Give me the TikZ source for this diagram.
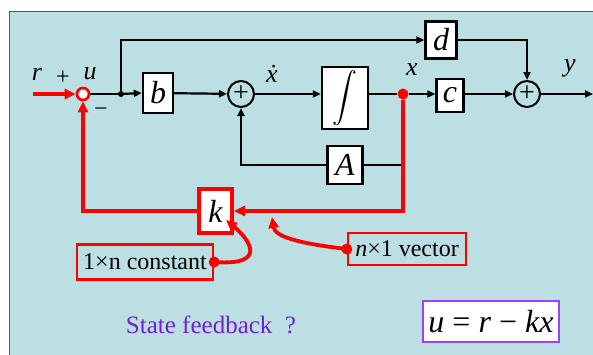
\documentclass[tikz,border=0pt]{standalone}
\usepackage{amsmath}
\usepackage{fontspec}
\setmainfont{Liberation Serif}
\usetikzlibrary{arrows.meta,positioning,calc}
\definecolor{bgc}{RGB}{187,223,227}
\definecolor{fb}{RGB}{255,0,0}
\definecolor{vio}{RGB}{112,32,208}
\definecolor{vbox}{RGB}{160,64,255}
\tikzset{
  blk/.style={draw=black,line width=2.4pt,fill=white,inner sep=0pt,
    font=\fontsize{32}{32}\selectfont\itshape},
  sumc/.style={circle,draw=black,line width=2pt,fill=bgc,minimum size=26pt,inner sep=0pt,
    font=\fontsize{28}{28}\selectfont},
  sig/.style={line width=2.2pt,-{Triangle[length=8pt,width=7pt]}},
  wire/.style={line width=2.2pt},
  fbk/.style={line width=3.8pt,draw=fb},
  fbarr/.style={fbk,-{Triangle[length=11pt,width=10pt]}},
  lbl/.style={font=\fontsize{26}{26}\selectfont\itshape,inner sep=0pt},
  note/.style={draw=fb,line width=2.4pt,inner sep=2pt,font=\fontsize{24}{24}\selectfont},
  dot/.style={circle,fill,inner sep=0pt,minimum size=#1},
}

\begin{document}
\begin{tikzpicture}[x=1pt,y=-1pt]
  \useasboundingbox (0,0) rectangle (593,354);
  % background panel
  \filldraw[fill=bgc,draw=gray!70!black,line width=0.8pt] (9,11) rectangle (600,362);

  % plant
  \node[circle,draw=fb,line width=2.7pt,fill=white,minimum size=12pt,inner sep=0pt] (sr) at (83,94) {};
  \node[dot=6pt] (j) at (121,94) {};
  \node[blk,minimum width=30pt,minimum height=40pt] (bb) at (158,93) {b};
  \node[sumc] (s1) at (241,94) {+};
  \node[blk,minimum width=46pt,minimum height=62pt] (ig) at (345,98) {\fontsize{29}{29}\selectfont$\displaystyle\int$};
  \node[dot=11pt,fill=fb] (xp) at (403,94) {};
  \node[blk,minimum width=27pt,minimum height=33pt] (cc) at (450,95.5) {c};
  \node[sumc] (s2) at (527,94) {+};
  \node[blk,minimum width=31pt,minimum height=37pt] (dd) at (441,40) {d};
  \node[blk,minimum width=35pt,minimum height=38pt] (aa) at (345,165) {A};
  \node[blk,draw=fb,line width=3.8pt,minimum width=33pt,minimum height=44pt] (kk) at (215.5,211) {k};
  \coordinate (ri) at (33,94);
  \coordinate (yo) at (593,94);

  % signal labels
  \node[lbl] (lr) at (37,74) {r};
  \node[lbl,font=\fontsize{24}{24}\selectfont] (lp) at (63,78) {+};
  \node[lbl] (lu) at (90,74) {u};
  \node[lbl,font=\fontsize{24}{24}\selectfont] (lm) at (101,112) {−};
  \node[lbl] (lxd) at (272,74) {\.x};
  \node[lbl] (lx) at (412,70) {x};
  \node[lbl] (ly) at (570,68) {y};

  % notes
  \node[note,minimum width=136pt,minimum height=35pt] (nc) at (145,262) {1×n constant};
  \node[note,minimum width=118pt,minimum height=32pt] (nv) at (407,249) {\textit{n}×1 vector};
  \node[dot=11pt,fill=fb] (cd) at (nc.east) {};
  \node[dot=11pt,fill=fb] (vd) at (nv.west) {};
  \coordinate (kt) at (226,220);
  \coordinate (vt) at (272,217);
  \node[font=\fontsize{25}{25}\selectfont,text=vio] (sf) at (211,325) {State feedback~~?};
  \node[draw=vbox,line width=2.6pt,fill=white,minimum width=136pt,minimum height=41pt,
    font=\fontsize{32}{32}\selectfont] (eq) at (491,321.5) {\textit{u} = \textit{r} − \textit{kx}};

  % forward path
  \draw[fbarr] (ri) -- (sr.west);
  \draw[wire] (sr.east) -- (j);
  \draw[sig] (j) -- (bb.west);
  \draw[sig] (j) |- (dd.west);
  \draw[sig] (bb) -- (s1);
  \draw[sig] (s1) -- (ig.west |- s1);
  \draw[wire] (ig.east |- xp) -- (xp);
  \draw[sig] (xp) -- (cc.west |- xp);
  \draw[sig] (cc.east |- s2) -- (s2);
  \draw[sig] (dd.east) -| (s2.north);
  \draw[sig] (s2) -- (yo);
  \draw[wire] (xp |- aa) -- (aa.east);
  \draw[sig] (aa.west) -| (s1.south);

  % state feedback
  \draw[fbarr] (xp) |- (kk.east);
  \draw[fbarr] (kk.west) -| (sr.south);
  \draw[fbarr] (cd.center) .. controls (268,266) and (250,240) .. (kt);
  \draw[fbarr] (vd.center) .. controls (295,243) and (275,236) .. (vt);
\end{tikzpicture}
\end{document}
